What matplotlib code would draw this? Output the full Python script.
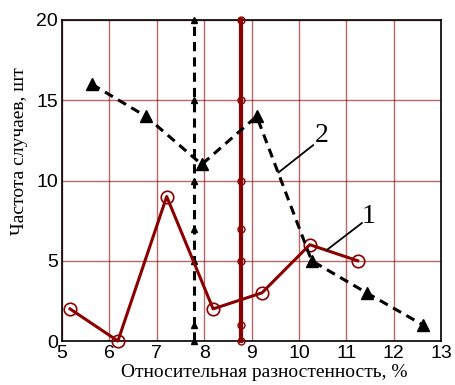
import matplotlib
matplotlib.use("Agg")
import matplotlib.pyplot as plt

# Series 1 (red, circles)
x1 = [5.17, 6.18, 7.21, 8.19, 9.22, 10.23, 11.24]
y1 = [2, 0, 9, 2, 3, 6, 5]
# Series 2 (black dashed, triangles)
x2 = [5.63, 6.77, 7.95, 9.11, 10.27, 11.43, 12.62]
y2 = [16, 14, 11, 14, 5, 3, 1]
# Vertical reference lines
vline_red_x = 8.78
vline_black_x = 7.78
vline_y = [0, 1, 5, 7, 10, 15, 20]

xticks = [5, 6, 7, 8, 9, 10, 11, 12, 13]
yticks = [0, 5, 10, 15, 20]

fig = plt.figure(figsize=(4.55, 3.85), dpi=100)
ax = fig.add_axes([62/455, 1 - 341/385, (441-62)/455, (341-20)/385])

red = '#8b0000'
ax.set_xlim(5, 13)
ax.set_ylim(0, 20)
ax.set_xticks(xticks)
ax.set_yticks(yticks)
ax.grid(True, color=red, alpha=0.6, linewidth=1.0)
ax.set_axisbelow(True)
ax.tick_params(length=0, labelsize=14, pad=3)
for lab in ax.get_xticklabels() + ax.get_yticklabels():
    lab.set_family('Liberation Sans')
for s in ax.spines.values():
    s.set_color('black')
    s.set_linewidth(1.2)

# red vertical
ax.plot([vline_red_x]*len(vline_y), vline_y, color=red, lw=3,
        marker='o', ms=5, mfc='none', mec=red, mew=1, clip_on=False, zorder=3)
# black dashed vertical
ax.plot([vline_black_x]*len(vline_y), vline_y, color='black', lw=2.2,
        ls=(0, (3, 2)), marker='^', ms=5, mfc='black', mec='black', clip_on=False, zorder=3)

ax.plot(x1, y1, color=red, lw=2.2, marker='o', ms=9, mfc='none', mec=red,
        mew=1.2, clip_on=False, zorder=4)
ax.plot(x2, y2, color='black', lw=2.2, ls=(0, (3, 2)), marker='^', ms=9,
        mfc='black', mec='black', clip_on=False, zorder=4)

# annotations
ax.plot([9.57, 10.3], [10.5, 12.2], color='black', lw=1.3, zorder=5)
ax.text(10.33, 12.0, '2', fontsize=20, family='Liberation Serif', ha='left', va='bottom')
ax.plot([10.59, 11.33], [5.67, 7.35], color='black', lw=1.3, zorder=5)
ax.text(11.33, 7.0, '1', fontsize=20, family='Liberation Serif', ha='left', va='bottom')

ax.set_xlabel('Относительная разностенность, %', family='Liberation Serif',
              fontsize=14)
ax.xaxis.set_label_coords(0.533, -0.072)
ax.set_ylabel('Частота случаев, шт', family='Liberation Serif', fontsize=14)
ax.yaxis.set_label_coords(-0.09, 0.59)

fig.savefig('out.png', dpi=100)
